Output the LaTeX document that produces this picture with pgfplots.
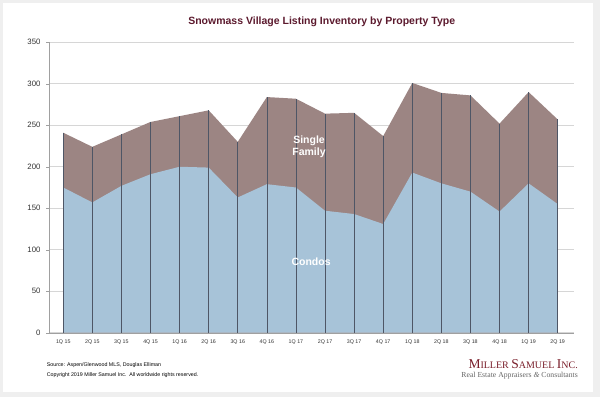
\documentclass[border=0pt]{standalone}
\usepackage{pgfplots}
\pgfplotsset{compat=1.18}
\usepackage{pgfplotstable}
\usepackage{fontspec}
\setmainfont{Liberation Sans}
\newfontfamily\serifx{Liberation Serif}
\definecolor{condoc}{HTML}{A7C3D8}
\definecolor{sfc}{HTML}{9C8583}
\definecolor{combc}{HTML}{4E5666}
\definecolor{titlec}{HTML}{5C1A2E}
\definecolor{logoc}{HTML}{7A1F2B}
\definecolor{gridc}{HTML}{D6D6D6}
\definecolor{axc}{HTML}{A0A0A0}
\definecolor{bgc}{HTML}{EFEFEF}
\pgfplotstableread{
x condo sf
0 175 66
1 157 67
2 177 62
3 191 63
4 200 61
5 199 69
6 163 67
7 179 105
8 175 107
9 147 117
10 143 122
11 131 106
12 193 108
13 180 109
14 170 116
15 146 106
16 180 110
17 155 102
}\datatab
\begin{document}
\begin{tikzpicture}
\fill[bgc] (0pt,0pt) rectangle (600pt,397pt);
\fill[white] (3pt,5pt) rectangle (593pt,394pt);
\begin{axis}[
  at={(49pt,64.3pt)}, anchor=south west,
  scale only axis, width=525pt, height=290.4pt,
  xmin=-0.49, xmax=17.56, ymin=0, ymax=350,
  axis x line*=bottom, axis y line*=left,
  axis line style={axc, -},
  ytick={0,50,...,350},
  ymajorgrids, grid style={gridc, line width=0.6pt},
  xtick={0,...,17},
  xticklabels={1Q 15,2Q 15,3Q 15,4Q 15,1Q 16,2Q 16,3Q 16,4Q 16,1Q 17,2Q 17,3Q 17,4Q 17,1Q 18,2Q 18,3Q 18,4Q 18,1Q 19,2Q 19},
  x tick style={draw=none},
  y tick style={axc},
  tick align=outside, major tick length=3pt,
  /pgf/number format/assume math mode=true,
  yticklabel style={font=\fontsize{7.8}{8}\selectfont, text=black!80, xshift=-2pt},
  xticklabel style={font=\fontsize{5.3}{6}\selectfont, text=black!80, yshift=-1pt},
  clip=false,
]
\addplot[fill=sfc, draw=none] table[x=x, y expr=\thisrow{condo}+\thisrow{sf}] {\datatab} \closedcycle;
\addplot[fill=condoc, draw=none] table[x=x, y=condo] {\datatab} \closedcycle;
\addplot[ycomb, combc, line width=0.7pt, mark=none] table[x=x, y expr=\thisrow{condo}+\thisrow{sf}] {\datatab};
\node[white, font=\fontsize{10.5}{12}\selectfont\bfseries, align=center] at (axis cs:8.45,224) {Single\\Family};
\node[white, font=\fontsize{10.5}{12}\selectfont\bfseries] at (axis cs:8.52,85) {Condos};
\end{axis}
\node[titlec, font=\fontsize{10.5}{12}\selectfont\bfseries] at (321.7pt,375.3pt) {Snowmass Village Listing Inventory by Property Type};
\node[anchor=west, font=\fontsize{5.3}{6}\selectfont, inner sep=0pt] at (46.7pt,32pt) {Source: Aspen/Glenwood MLS, Douglas Elliman};
\node[anchor=west, font=\fontsize{5.3}{6}\selectfont, inner sep=0pt] at (46.7pt,22.3pt) {Copyright 2019 Miller Samuel Inc.\ \ All worldwide rights reserved.};
\node[anchor=base east, logoc, inner sep=0pt, font=\serifx] at (578pt,29pt) {{\fontsize{13.5}{14}\selectfont M}{\fontsize{10}{11}\selectfont ILLER} {\fontsize{13.5}{14}\selectfont S}{\fontsize{10}{11}\selectfont AMUEL} {\fontsize{13.5}{14}\selectfont I}{\fontsize{10}{11}\selectfont NC.}};
\node[anchor=base east, black!60, inner sep=0pt, font=\serifx\fontsize{7.7}{8}\selectfont] at (578pt,19.3pt) {Real Estate Appraisers {\itshape\&} Consultants};
\end{tikzpicture}
\end{document}
